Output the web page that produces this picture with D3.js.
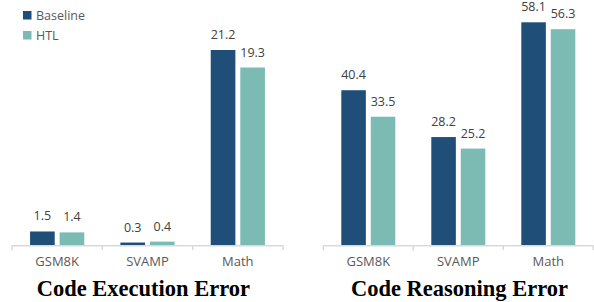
<!DOCTYPE html>
<html><head><meta charset="utf-8">
<script src="https://cdn.jsdelivr.net/npm/d3@7/dist/d3.min.js"></script>
<style>body{margin:0;background:#fff}svg{display:block}</style>
</head><body>
<svg id="c" width="594" height="302"></svg>
<script>
const categories = ["GSM8K", "SVAMP", "Math"];
const seriesNames = ["Baseline", "HTL"];
const execBaseline = [1.5, 0.3, 21.2];
const execHTL = [1.4, 0.4, 19.3];
const reasonBaseline = [40.4, 28.2, 58.1];
const reasonHTL = [33.5, 25.2, 56.3];
const panelTitles = ["Code Execution Error", "Code Reasoning Error"];
const colors = ["#1F4E79", "#7BBBB4"];

const svg = d3.select("#c");
const baseY = 245.3, topY = 15;

const panels = [
  {title: panelTitles[0], vals: [execBaseline, execHTL], x: [12, 283], max: 25, tx: 143.3},
  {title: panelTitles[1], vals: [reasonBaseline, reasonHTL], x: [323.3, 593.3], max: 60, tx: 459.5}
];

panels.forEach(p => {
  const g = svg.append("g");
  const x0 = d3.scaleBand().domain(categories).range(p.x).padding(0);
  const bw = x0.bandwidth();
  const x1 = d3.scaleBand().domain(seriesNames).range([bw*0.2, bw*0.8]).paddingInner(1/6).paddingOuter(0);
  const y = d3.scaleLinear().domain([0, p.max]).range([baseY, topY]);

  const data = [];
  categories.forEach((c, i) => seriesNames.forEach((s, j) => data.push({c, s, j, v: p.vals[j][i]})));

  g.selectAll("rect.bar").data(data).join("rect")
    .attr("class", "bar")
    .attr("x", d => x0(d.c) + x1(d.s))
    .attr("width", x1.bandwidth())
    .attr("y", d => y(d.v))
    .attr("height", d => baseY - y(d.v))
    .attr("fill", d => colors[d.j]);

  g.selectAll("text.val").data(data).join("text")
    .attr("class", "val")
    .attr("x", d => x0(d.c) + x1(d.s) + x1.bandwidth()/2)
    .attr("y", d => y(d.v) - 11)
    .attr("text-anchor", "middle")
    .attr("font-family", "'Open Sans', sans-serif")
    .attr("font-size", 12.5)
    .attr("fill", "#404040")
    .text(d => d.v.toFixed(1));

  // axis
  const ax = g.append("g").attr("transform", `translate(0,${baseY})`)
    .call(d3.axisBottom(x0).tickSize(0).tickPadding(11));
  ax.select(".domain").remove();
  ax.selectAll("text")
    .attr("font-family", "'Open Sans', sans-serif")
    .attr("font-size", 13)
    .attr("fill", "#595959");
  const bounds = categories.map(c => x0(c)).concat([p.x[1]]);
  g.append("line").attr("x1", p.x[0]).attr("x2", p.x[1])
    .attr("y1", baseY + 0.5).attr("y2", baseY + 0.5)
    .attr("stroke", "#d9d9d9").attr("stroke-width", 1.5);
  g.selectAll("line.tk").data(bounds).join("line").attr("class", "tk")
    .attr("x1", d => d).attr("x2", d => d)
    .attr("y1", baseY).attr("y2", baseY + 5)
    .attr("stroke", "#d9d9d9").attr("stroke-width", 1.5);

  g.append("text")
    .attr("x", p.tx)
    .attr("y", 296)
    .attr("text-anchor", "middle")
    .attr("font-family", "'Liberation Serif', 'Times New Roman', serif")
    .attr("font-weight", "bold")
    .attr("font-size", 22.5)
    .attr("fill", "#000")
    .text(p.title);
});

// legend
const lg = svg.append("g");
seriesNames.forEach((s, i) => {
  lg.append("rect").attr("x", 23).attr("y", 11 + i*20).attr("width", 8.5).attr("height", 8.5).attr("fill", colors[i]);
  lg.append("text").attr("x", 36).attr("y", 19.5 + i*20)
    .attr("font-family", "'Open Sans', sans-serif").attr("font-size", 12.5).attr("fill", "#595959").text(s);
});
</script>
</body></html>
